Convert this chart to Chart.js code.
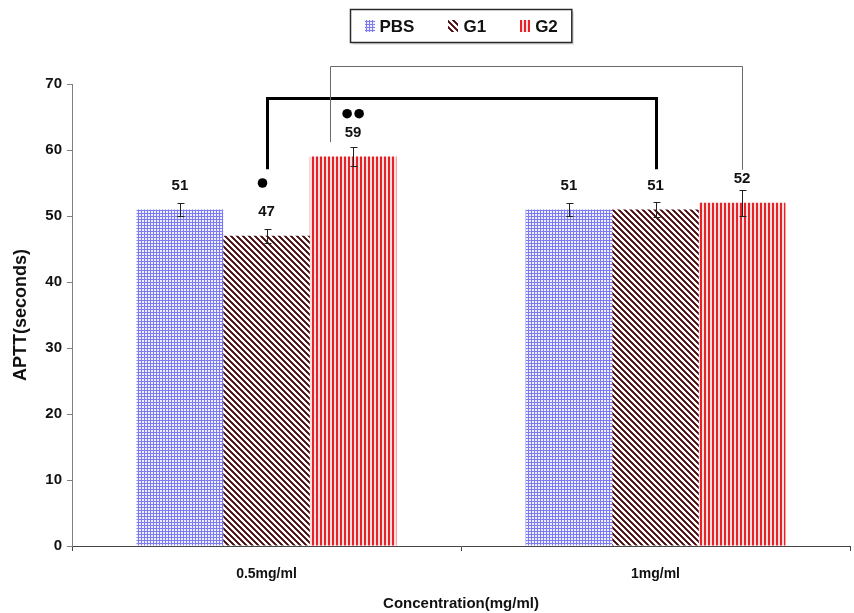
<!DOCTYPE html>
<html>
<head>
<meta charset="utf-8">
<script src="https://cdn.jsdelivr.net/npm/chart.js@4.4.1/dist/chart.umd.min.js"></script>
<style>
  html, body { margin: 0; padding: 0; background: #fff; }
  canvas { display: block; }
</style>
</head>
<body>
<canvas id="chart" width="854" height="613"></canvas>
<script>
// ---- data ----
const categories = ['0.5mg/ml', '1mg/ml'];
const seriesNames = ['PBS', 'G1', 'G2'];
const pbsValues = [51, 51];
const g1Values = [47, 51];
const g2Values = [59, 52];
const pbsErrors = [1, 1];
const g1Errors = [1.1, 1.1];
const g2Errors = [1.4, 2];
const yTickValues = [0, 10, 20, 30, 40, 50, 60, 70];

// significance markers: series index, category index, height (seconds), dot count
const sigMarks = [
  { series: 1, cat: 0, at: 55, count: 1 },
  { series: 2, cat: 0, at: 65.5, count: 2 }
];
// comparison brackets, heights in seconds
const brackets = [
  { from: [1, 0], to: [1, 1], top: 67.9, leftEnd: 57.1, rightEnd: 57.1, shift: 0, width: 3, color: '#000' },
  { from: [2, 0], to: [2, 1], top: 72.7, leftEnd: 61.2, rightEnd: 57.0, shift: -0.27, width: 1, color: '#6a6a6a' }
];

const FONT = '"Liberation Sans", Arial, sans-serif';

// ---- fill patterns ----
function makePattern(w, h, paint) {
  const c = document.createElement('canvas');
  c.width = w; c.height = h;
  const g = c.getContext('2d');
  paint(g, w, h);
  return document.getElementById('chart').getContext('2d').createPattern(c, 'repeat');
}
const gridFill = makePattern(3, 3, (g) => {
  g.fillStyle = '#eeeeff'; g.fillRect(0, 0, 3, 3);
  g.fillStyle = '#7c7cf0'; g.fillRect(0, 0, 3, 1); g.fillRect(0, 0, 1, 3);
});
const diagFill = makePattern(6, 6, (g) => {
  g.fillStyle = '#ffffff'; g.fillRect(0, 0, 6, 6);
  for (let y = 0; y < 6; y++) for (let x = 0; x < 6; x++) {
    const d = ((x - y) % 6 + 6) % 6;
    if (d < 3) { g.fillStyle = d === 1 ? '#3d0c10' : '#6a2a2e'; g.fillRect(x, y, 1, 1); }
  }
});
const stripeFill = makePattern(4, 4, (g) => {
  g.fillStyle = '#ffdede'; g.fillRect(0, 0, 4, 4);
  g.fillStyle = '#e8222b'; g.fillRect(0, 0, 2, 4);
});
const fills = [gridFill, diagFill, stripeFill];
const values = [pbsValues, g1Values, g2Values];
const errors = [pbsErrors, g1Errors, g2Errors];

// ---- overlay drawing: error bars, value labels, markers, brackets, legend ----
const overlay = {
  id: 'overlay',
  beforeDraw(chart) {
    const ctx = chart.ctx;
    ctx.save();
    ctx.fillStyle = '#fff';
    ctx.fillRect(0, 0, chart.width, chart.height);
    ctx.restore();
  },
  afterDatasetsDraw(chart) {
    const ctx = chart.ctx;
    const y = chart.scales.y;
    ctx.save();
    chart.data.datasets.forEach((ds, di) => {
      const meta = chart.getDatasetMeta(di);
      meta.data.forEach((bar, i) => {
        const v = ds.data[i];
        const e = ds.errors[i];
        const x = Math.round(bar.x) + 0.5;
        const yTop = Math.round(y.getPixelForValue(v + e)) + 0.5;
        const yBot = Math.round(y.getPixelForValue(v - e)) + 0.5;
        ctx.strokeStyle = '#222';
        ctx.lineWidth = 1;
        ctx.beginPath();
        ctx.moveTo(x, yTop); ctx.lineTo(x, yBot);
        ctx.moveTo(x - 3, yTop); ctx.lineTo(x + 4, yTop);
        ctx.moveTo(x - 3, yBot); ctx.lineTo(x + 4, yBot);
        ctx.stroke();
        ctx.fillStyle = '#111';
        ctx.font = 'bold 15px ' + FONT;
        ctx.textAlign = 'center';
        ctx.textBaseline = 'middle';
        ctx.fillText(String(v), bar.x, bar.y - 24);
      });
    });

    // significance dots
    sigMarks.forEach((m) => {
      const bar = chart.getDatasetMeta(m.series).data[m.cat];
      const py = y.getPixelForValue(m.at);
      for (let k = 0; k < m.count; k++) {
        const px = bar.x + (k - (m.count - 1) / 2) * 12 - (m.count === 1 ? 4 : 0);
        ctx.fillStyle = '#000';
        ctx.beginPath();
        ctx.arc(px, py, 4.8, 0, Math.PI * 2);
        ctx.fill();
      }
    });

    // brackets
    brackets.forEach((b) => {
      const b1 = chart.getDatasetMeta(b.from[0]).data[b.from[1]];
      const b2 = chart.getDatasetMeta(b.to[0]).data[b.to[1]];
      const off = b.width % 2 ? 0.5 : 0;
      const x1 = Math.round(b1.x + b.shift * b1.width) + off;
      const x2 = Math.round(b2.x) + off;
      const yt = Math.round(y.getPixelForValue(b.top)) + off;
      ctx.strokeStyle = b.color;
      ctx.lineWidth = b.width;
      ctx.lineJoin = 'miter';
      ctx.beginPath();
      ctx.moveTo(x1, y.getPixelForValue(b.leftEnd));
      ctx.lineTo(x1, yt);
      ctx.lineTo(x2, yt);
      ctx.lineTo(x2, y.getPixelForValue(b.rightEnd));
      ctx.stroke();
    });
    ctx.restore();
  },
  afterDraw(chart) {
    // framed legend above the plot
    const ctx = chart.ctx;
    const area = chart.chartArea;
    ctx.save();
    ctx.font = 'bold 17px ' + FONT;
    const sw = 10, gap = 5, spacing = 34, padX = 14;
    const items = chart.data.datasets.map((ds) => ({ label: ds.label, fill: ds.backgroundColor, w: ctx.measureText(ds.label).width }));
    let total = 0;
    items.forEach((it, i) => { total += sw + gap + it.w + (i ? spacing : 0); });
    const boxW = total + padX * 2;
    const boxH = 33;
    const cx = (area.left + area.right) / 2;
    const bx = Math.round(cx - boxW / 2) + 0.5;
    const by = 9.5;
    ctx.fillStyle = '#d8d8d8';
    ctx.fillRect(bx + 2, by + 2, boxW, boxH);
    ctx.fillStyle = '#fff';
    ctx.fillRect(bx, by, boxW, boxH);
    ctx.strokeStyle = '#2a2a2a';
    ctx.lineWidth = 1.5;
    ctx.strokeRect(bx, by, boxW, boxH);
    let x = bx + padX;
    const midY = by + boxH / 2;
    items.forEach((it, i) => {
      if (i) x += spacing;
      ctx.fillStyle = it.fill;
      ctx.fillRect(Math.round(x), Math.round(midY - 6), sw, 12);
      x += sw + gap;
      ctx.fillStyle = '#111';
      ctx.textAlign = 'left';
      ctx.textBaseline = 'middle';
      ctx.fillText(it.label, x, midY + 1);
      x += it.w;
    });
    ctx.restore();
  }
};

const datasets = seriesNames.map((name, i) => ({
  label: name,
  data: values[i],
  errors: errors[i],
  backgroundColor: fills[i],
  borderWidth: 0,
  categoryPercentage: 0.668,
  barPercentage: 1.0
}));

new Chart(document.getElementById('chart'), {
  type: 'bar',
  data: { labels: categories, datasets },
  plugins: [overlay],
  options: {
    responsive: false,
    animation: false,
    devicePixelRatio: 1,
    layout: { padding: { top: 84, right: 4, bottom: 0, left: 0 } },
    plugins: { legend: { display: false }, tooltip: { enabled: false } },
    scales: {
      x: {
        afterFit: (s) => { s.height = 67; },
        grid: { offset: true, drawOnChartArea: false, tickLength: 5, color: '#444' },
        border: { color: '#444', width: 1 },
        ticks: { color: '#111', font: { family: FONT, size: 14, weight: 'bold' }, padding: 15 },
        title: { display: true, text: 'Concentration(mg/ml)', color: '#111', font: { family: FONT, size: 15, weight: 'bold' }, padding: { top: 0, bottom: 0 } }
      },
      y: {
        min: 0,
        max: 70,
        afterFit: (s) => { s.width = 72; },
        afterBuildTicks: (s) => { s.ticks = yTickValues.map((v) => ({ value: v })); },
        grid: { drawOnChartArea: false, tickLength: 5, color: '#808080' },
        border: { color: '#808080', width: 1 },
        ticks: { color: '#111', font: { family: FONT, size: 15, weight: 'bold' }, padding: 5 },
        title: { display: true, text: 'APTT(seconds)', color: '#111', font: { family: FONT, size: 18, weight: 'bold' }, padding: { top: 10, bottom: 0 } }
      }
    }
  }
});
</script>
</body>
</html>
